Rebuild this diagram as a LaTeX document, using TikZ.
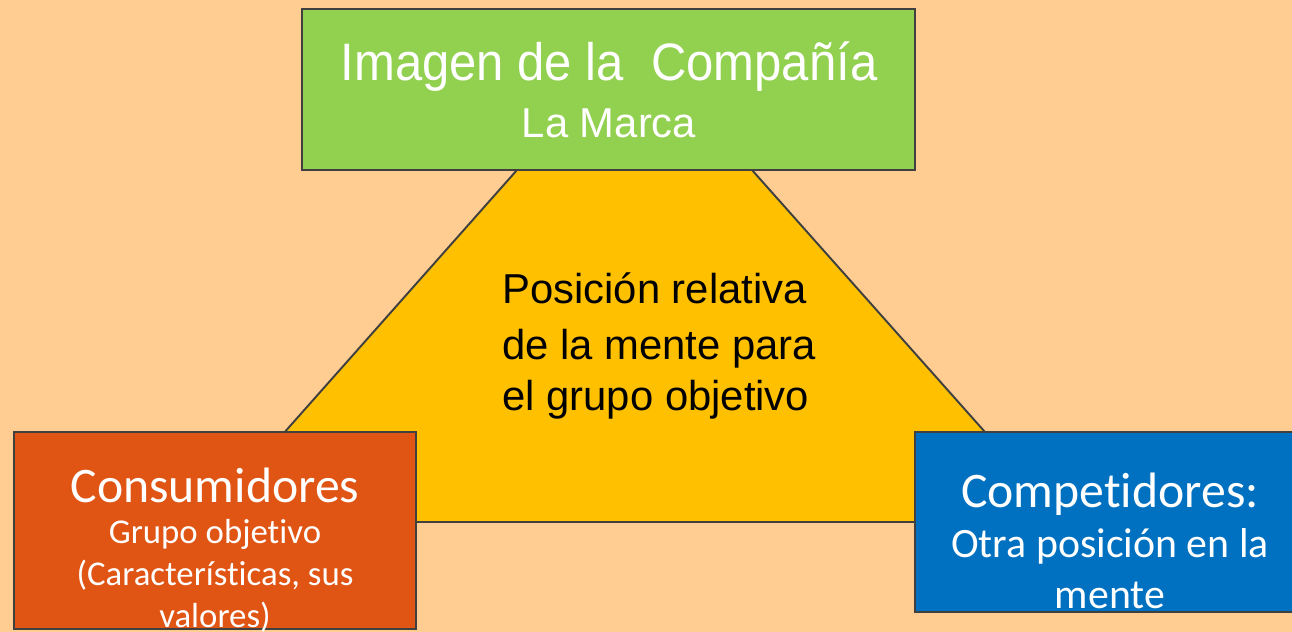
\documentclass[tikz,border=0pt]{standalone}
\usepackage{fontspec}
\setmainfont{Liberation Sans}
\newfontfamily\calibri[RawFeature={-liga;-clig;-dlig}]{Carlito}
\definecolor{fondo}{HTML}{FFCC92}
\definecolor{verde}{HTML}{92D050}
\definecolor{oro}{HTML}{FFC000}
\definecolor{rojo}{HTML}{E05414}
\definecolor{azul}{HTML}{0070C0}
\definecolor{borde}{HTML}{404040}

\begin{document}
\begin{tikzpicture}[x=0.02cm, y=-0.02cm,
  caja/.style={draw=borde, line width=1.1pt},
  txt/.style={inner sep=0pt, anchor=base},
  blanco/.style={txt, text=white}]
\useasboundingbox (0,0) rectangle (1292,632);
\clip (0,0) rectangle (1292,632);
\fill[fondo] (0,0) rectangle (1292,632);

\filldraw[caja, fill=oro] (517,170) -- (752,170) -- (1065,522) -- (205,522) -- cycle;
\node[txt, anchor=base west, font=\fontsize{23.8}{30}\selectfont] (pos1) at (502,303) {Posición relativa};
\node[txt, anchor=base west, font=\fontsize{23.8}{30}\selectfont] (pos2) at (502,359) {de la mente para};
\node[txt, anchor=base west, font=\fontsize{23.8}{30}\selectfont] (pos3) at (502,410) {el grupo objetivo};

\filldraw[caja, fill=verde] (302,9) rectangle (915,170);
\node[blanco, xscale=0.93, font=\fontsize{30}{35}\selectfont] (imagen) at (609,80) {Imagen de la\ \ Compañía};
\node[blanco, font=\fontsize{23.8}{30}\selectfont] (marca) at (609,137) {La Marca};

\filldraw[caja, fill=rojo] (14,432) rectangle (416,629);
\node[blanco, font=\calibri\fontsize{28.3}{34}\selectfont] (cons) at (215,502) {Consumidores};
\node[blanco, font=\calibri\fontsize{19.8}{24}\selectfont] (cons1) at (215,543) {Grupo objetivo};
\node[blanco, font=\calibri\fontsize{19.8}{24}\selectfont] (cons2) at (215,585) {(Características, sus};
\node[blanco, font=\calibri\fontsize{19.8}{24}\selectfont] (cons3) at (215,627) {valores)};

\filldraw[caja, fill=azul] (915,432) rectangle (1310,612);
\node[blanco, font=\calibri\fontsize{28.3}{34}\selectfont] (comp) at (1110,507) {Competidores:};
\node[blanco, font=\calibri\fontsize{23.8}{29}\selectfont] (comp1) at (1110,557) {Otra posición en la};
\node[blanco, font=\calibri\fontsize{23.8}{29}\selectfont] (comp2) at (1110,608) {mente};
\end{tikzpicture}
\end{document}
